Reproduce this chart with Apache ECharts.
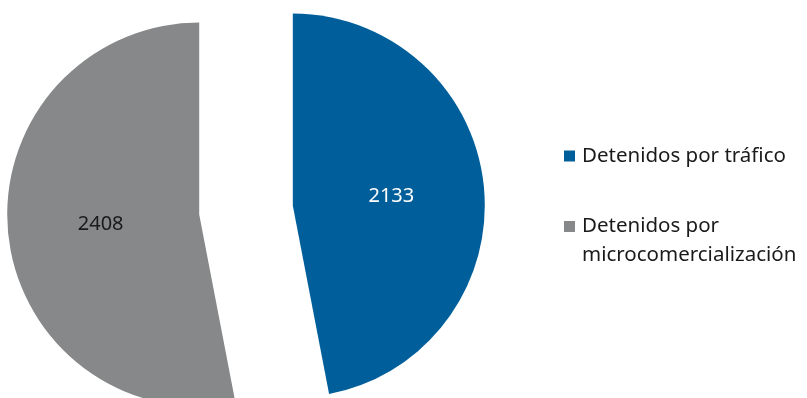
<!DOCTYPE html>
<html>
<head>
<meta charset="utf-8">
<script src="https://cdn.jsdelivr.net/npm/echarts@6/dist/echarts.min.js"></script>
<style>
  html, body { margin: 0; padding: 0; background: #ffffff; }
  #chart { width: 807px; height: 398px; }
</style>
</head>
<body>
<div id="chart"></div>
<script>
// Detainee counts by offence type
const categories = ['Detenidos por tráfico', 'Detenidos por\nmicrocomercialización'];
const values = [2133, 2408];
const colors = ['#005f9b', '#878889'];
const labelColors = ['#ffffff', '#1a1a1a'];

const FONT = '"Noto Sans", "Open Sans", sans-serif';

const chart = echarts.init(document.getElementById('chart'), null, { renderer: 'canvas' });

const pieData = categories.map((name, i) => ({
  name: name,
  value: values[i],
  selected: true,
  itemStyle: { color: colors[i] },
  label: { color: labelColors[i] }
}));

const legendBase = {
  left: 564,
  padding: 0,
  orient: 'vertical',
  icon: 'rect',
  itemWidth: 11,
  itemHeight: 11,
  itemGap: 0,
  selectedMode: false
};

chart.setOption({
  animation: false,
  backgroundColor: '#ffffff',
  legend: [
    Object.assign({}, legendBase, {
      data: [categories[0]],
      top: 143,
      textStyle: { fontFamily: FONT, fontSize: 20.5, color: '#1a1a1a', lineHeight: 26, padding: [0, 0, 0, 2] }
    }),
    // leading blank line keeps the swatch level with the first text line
    Object.assign({}, legendBase, {
      data: [categories[1]],
      top: 183,
      formatter: name => '\n' + name,
      textStyle: { fontFamily: FONT, fontSize: 20.5, color: '#1a1a1a', lineHeight: 29, padding: [0, 0, 0, 2] }
    })
  ],
  series: [
    {
      type: 'pie',
      center: [246, 210],
      radius: [0, 192],
      startAngle: 90,
      clockwise: true,
      selectedMode: 'multiple',
      selectedOffset: 47,
      avoidLabelOverlap: false,
      emphasis: { disabled: true },
      label: {
        show: true,
        position: 'inside',
        formatter: '{c}',
        fontFamily: FONT,
        fontSize: 20
      },
      labelLine: { show: false },
      data: pieData
    }
  ]
});
</script>
</body>
</html>
